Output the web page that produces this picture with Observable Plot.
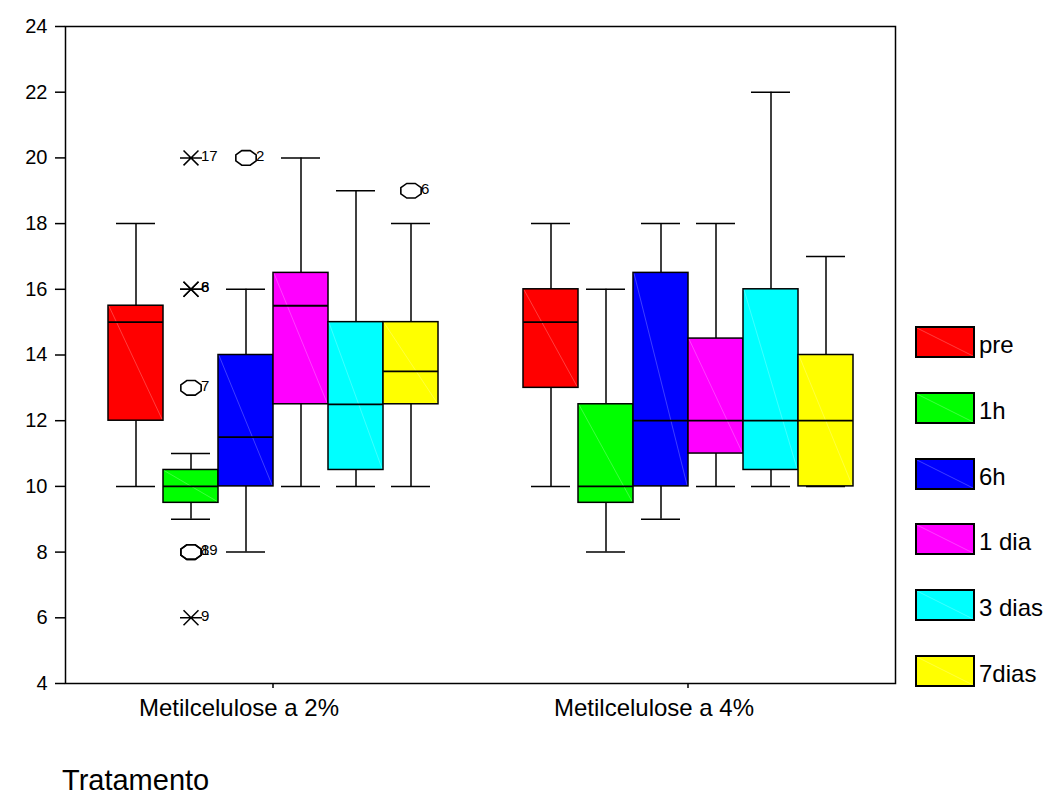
<!DOCTYPE html>
<html>
<head>
<meta charset="utf-8">
<script src="https://cdn.jsdelivr.net/npm/d3@7"></script>
<script src="https://cdn.jsdelivr.net/npm/@observablehq/plot@0.6"></script>
<style>
  html, body { margin: 0; padding: 0; background: #fff; }
  #wrap { position: relative; width: 1048px; height: 797px; font-family: "Liberation Sans", Arial, sans-serif; color: #000; overflow: hidden; }
  #chart svg { display: block; }
  .leg-sw { position: absolute; width: 60px; height: 32px; box-sizing: border-box; border: 2px solid #000; overflow: hidden; }
  .leg-lab { position: absolute; font-size: 24px; line-height: 32px; white-space: nowrap; }
  #xtitle { position: absolute; left: 62px; top: 766px; font-size: 29px; line-height: 29px; white-space: nowrap; }
</style>
</head>
<body>
<div id="wrap">
  <div id="chart"></div>
  <div id="legend"></div>
  <div id="xtitle">Tratamento</div>
</div>
<script>
// ---- data ----
const groups = ["Metilcelulose a 2%", "Metilcelulose a 4%"];
const series = ["pre", "1h", "6h", "1 dia", "3 dias", "7dias"];
const colors = ["#ff0000", "#00ff00", "#0000ff", "#ff00ff", "#00ffff", "#ffff00"];
const yTicks = [4, 6, 8, 10, 12, 14, 16, 18, 20, 22, 24];

// Metilcelulose a 2%
const lo2  = [10, 9, 8, 10, 10, 10];
const q1_2 = [12, 9.5, 10, 12.5, 10.5, 12.5];
const med2 = [15, 10, 11.5, 15.5, 12.5, 13.5];
const q3_2 = [15.5, 10.5, 14, 16.5, 15, 15];
const hi2  = [18, 11, 16, 20, 19, 18];

// Metilcelulose a 4%
const lo4  = [10, 8, 9, 10, 10, 10];
const q1_4 = [13, 9.5, 10, 11, 10.5, 10];
const med4 = [15, 10, 12, 12, 12, 12];
const q3_4 = [16, 12.5, 16.5, 14.5, 16, 14];
const hi4  = [18, 16, 18, 18, 22, 17];

// outliers / extremes
const outGroup  = ["Metilcelulose a 2%", "Metilcelulose a 2%", "Metilcelulose a 2%", "Metilcelulose a 2%", "Metilcelulose a 2%", "Metilcelulose a 2%", "Metilcelulose a 2%", "Metilcelulose a 2%", "Metilcelulose a 2%"];
const outSeries = ["1h", "1h", "1h", "1h", "1h", "1h", "1h", "6h", "7dias"];
const outValue  = [20, 16, 16, 13, 8, 8, 6, 20, 19];
const outLabel  = ["17", "6", "8", "7", "8", "19", "9", "2", "6"];
const outKind   = ["extreme", "extreme", "extreme", "outlier", "outlier", "outlier", "extreme", "outlier", "outlier"];

// ---- build tables ----
const boxes = [];
series.forEach((s, i) => {
  boxes.push({group: groups[0], series: s, lo: lo2[i], q1: q1_2[i], med: med2[i], q3: q3_2[i], hi: hi2[i]});
  boxes.push({group: groups[1], series: s, lo: lo4[i], q1: q1_4[i], med: med4[i], q3: q3_4[i], hi: hi4[i]});
});
const outs = outValue.map((v, i) => ({group: outGroup[i], series: outSeries[i], value: v, label: outLabel[i], kind: outKind[i]}));

// custom symbols
const octagon = {
  draw(ctx, size) {
    const r = Math.sqrt(size / Math.PI);
    const a = r, b = r * 0.72;
    for (let k = 0; k < 8; k++) {
      const t = (k * 45 + 22.5) * Math.PI / 180;
      const px = a * Math.cos(t), py = b * Math.sin(t);
      if (k === 0) ctx.moveTo(px, py); else ctx.lineTo(px, py);
    }
    ctx.closePath();
  }
};
const cross = {
  draw(ctx, size) {
    const r = Math.sqrt(size / Math.PI);
    const d = r * 0.68;
    ctx.moveTo(-d, -d); ctx.lineTo(d, d);
    ctx.moveTo(-d, d); ctx.lineTo(d, -d);
    ctx.moveTo(-r, 0); ctx.lineTo(r, 0);
  }
};

// diagonal sheen inside bars
function diagRender(index, scales, values, dimensions, context, next) {
  const g = next(index, scales, values, dimensions, context);
  d3.select(g).selectAll("rect").each(function() {
    const r = d3.select(this);
    const x = +r.attr("x"), y = +r.attr("y"), w = +r.attr("width"), h = +r.attr("height");
    d3.select(this.parentNode).append("line")
      .attr("x1", x + 1).attr("y1", y + 1).attr("x2", x + w - 1).attr("y2", y + h - 1)
      .attr("stroke", "#fff").attr("stroke-opacity", 0.35).attr("stroke-width", 0.7);
  });
  return g;
}

const chart = Plot.plot({
  width: 1048,
  height: 740,
  marginLeft: 65,
  marginRight: 153,
  marginTop: 26,
  marginBottom: 57,
  style: {fontFamily: "'Liberation Sans', Arial, sans-serif", fontSize: "20px", background: "#fff", color: "#000"},
  fx: {domain: groups, padding: 0, label: null},
  x: {domain: series, paddingInner: 0, paddingOuter: 0.75, axis: null},
  y: {domain: [4, 24], label: null},
  color: {domain: series, range: colors},
  marks: [
    Plot.ruleX(boxes, {fx: "group", x: "series", y1: "q3", y2: "hi", stroke: "#000", strokeWidth: 1.5}),
    Plot.ruleX(boxes, {fx: "group", x: "series", y1: "lo", y2: "q1", stroke: "#000", strokeWidth: 1.5}),
    Plot.tickY(boxes, {fx: "group", x: "series", y: "hi", stroke: "#000", strokeWidth: 1.5, insetLeft: 8, insetRight: 8}),
    Plot.tickY(boxes, {fx: "group", x: "series", y: "lo", stroke: "#000", strokeWidth: 1.5, insetLeft: 8, insetRight: 8}),
    Plot.barY(boxes, {fx: "group", x: "series", y1: "q1", y2: "q3", fill: "series", stroke: "#000", strokeWidth: 1.5, inset: 0, render: diagRender}),
    Plot.tickY(boxes, {fx: "group", x: "series", y: "med", stroke: "#000", strokeWidth: 1.8}),
    Plot.dot(outs.filter(d => d.kind === "outlier"), {fx: "group", x: "series", y: "value", symbol: octagon, r: 11, stroke: "#000", strokeWidth: 1.6, fill: "none"}),
    Plot.dot(outs.filter(d => d.kind === "extreme"), {fx: "group", x: "series", y: "value", symbol: cross, r: 11, stroke: "#000", strokeWidth: 1.5, fill: "none"}),
    Plot.text(outs, {fx: "group", x: "series", y: "value", text: "label", dx: 10, dy: -2, textAnchor: "start", fontSize: 15, fill: "#000"}),
    Plot.frame({facet: "super", stroke: "#000", strokeWidth: 1.5}),
    Plot.axisY({ticks: yTicks, tickSize: 10, tickPadding: 8, fontSize: 20, label: null, strokeWidth: 1.5}),
    Plot.axisFx({anchor: "bottom", tickSize: 5, tickPadding: 10, fontSize: 24, label: null, strokeWidth: 1.5, textStroke: null})
  ]
});
// group labels sit slightly left of their ticks, as in the reference
d3.select(chart).selectAll("g[aria-label='fx-axis tick label'] text")
  .attr("dx", -34);
document.getElementById("chart").appendChild(chart);

// ---- legend ----
const leg = d3.select("#legend");
series.forEach((s, i) => {
  const top = 326 + 65.8 * i;
  const sw = leg.append("div").attr("class", "leg-sw")
    .style("left", "915px").style("top", top + "px").style("background", colors[i]);
  sw.append("svg").attr("width", 56).attr("height", 28).style("display", "block")
    .append("line").attr("x1", 0).attr("y1", 0).attr("x2", 56).attr("y2", 28)
    .attr("stroke", "#fff").attr("stroke-opacity", 0.35).attr("stroke-width", 0.7);
  leg.append("div").attr("class", "leg-lab")
    .style("left", "979px").style("top", (top + 3) + "px").text(s);
});
</script>
</body>
</html>
